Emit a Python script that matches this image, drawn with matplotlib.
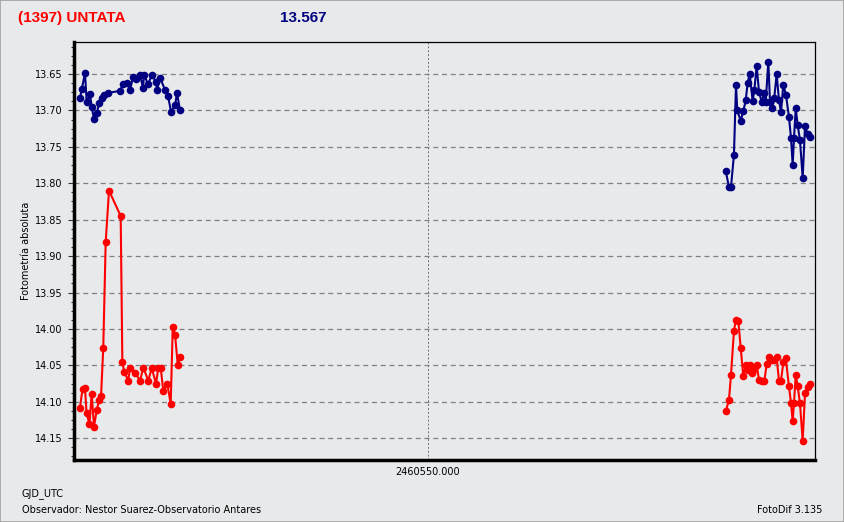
import numpy as np
import matplotlib
matplotlib.use('Agg')
from matplotlib import pyplot as plt
from matplotlib.ticker import MultipleLocator, FixedLocator, FuncFormatter
from matplotlib.patches import Rectangle

# GJD_UTC - 2460549 (days)
t_blue_a = [0.6243, 0.6261, 0.6297, 0.6315, 0.6351, 0.6369, 0.6394, 0.6423, 0.6451, 0.6477,
            0.6502, 0.6545, 0.6675, 0.6707, 0.6750, 0.6783, 0.6815, 0.6848, 0.6891, 0.6923,
            0.6934, 0.6977, 0.7020, 0.7064, 0.7074, 0.7107, 0.7161, 0.7193, 0.7226, 0.7269,
            0.7290, 0.7323]
m_blue_a = [13.683, 13.671, 13.649, 13.689, 13.678, 13.695, 13.712, 13.704, 13.690, 13.683,
            13.679, 13.676, 13.673, 13.664, 13.662, 13.672, 13.654, 13.657, 13.651, 13.669,
            13.651, 13.664, 13.651, 13.661, 13.672, 13.655, 13.672, 13.680, 13.702, 13.693,
            13.676, 13.700]

t_red_a = [0.6243, 0.6270, 0.6297, 0.6313, 0.6345, 0.6369, 0.6394, 0.6423, 0.6448, 0.6470,
           0.6494, 0.6520, 0.6556, 0.6682, 0.6700, 0.6721, 0.6764, 0.6783, 0.6837, 0.6891,
           0.6926, 0.6980, 0.7017, 0.7064, 0.7088, 0.7114, 0.7142, 0.7185, 0.7222, 0.7244,
           0.7269, 0.7298, 0.7323]
m_red_a = [14.108, 14.082, 14.081, 14.115, 14.131, 14.089, 14.134, 14.112, 14.098, 14.092,
           14.026, 13.881, 13.810, 13.845, 14.046, 14.059, 14.071, 14.053, 14.060, 14.071,
           14.053, 14.071, 14.054, 14.075, 14.053, 14.053, 14.085, 14.075, 14.103, 13.998,
           14.008, 14.049, 14.039]

t_blue_b = [1.3214, 1.3249, 1.3271, 1.3303, 1.3325, 1.3339, 1.3376, 1.3404, 1.3430, 1.3451,
            1.3473, 1.3505, 1.3523, 1.3548, 1.3573, 1.3602, 1.3631, 1.3646, 1.3674, 1.3692,
            1.3717, 1.3738, 1.3764, 1.3789, 1.3811, 1.3836, 1.3865, 1.3897, 1.3919, 1.3937,
            1.3951, 1.3970, 1.3991, 1.4016, 1.4045, 1.4070, 1.4099, 1.4124]
m_blue_b = [13.783, 13.805, 13.805, 13.761, 13.665, 13.700, 13.714, 13.701, 13.686, 13.662,
            13.650, 13.687, 13.672, 13.639, 13.674, 13.688, 13.676, 13.688, 13.633, 13.688,
            13.697, 13.683, 13.650, 13.686, 13.702, 13.665, 13.679, 13.709, 13.738, 13.775,
            13.738, 13.697, 13.720, 13.741, 13.793, 13.722, 13.732, 13.736]

t_red_b = [1.3214, 1.3249, 1.3271, 1.3303, 1.3322, 1.3350, 1.3376, 1.3404, 1.3430, 1.3458,
           1.3476, 1.3501, 1.3523, 1.3548, 1.3573, 1.3602, 1.3631, 1.3656, 1.3681, 1.3710,
           1.3738, 1.3764, 1.3789, 1.3811, 1.3836, 1.3862, 1.3897, 1.3919, 1.3937, 1.3951,
           1.3970, 1.3991, 1.4016, 1.4045, 1.4070, 1.4099, 1.4124]
m_red_b = [14.113, 14.098, 14.063, 14.003, 13.988, 13.989, 14.026, 14.065, 14.050, 14.057,
           14.049, 14.061, 14.055, 14.049, 14.070, 14.072, 14.072, 14.048, 14.038, 14.043,
           14.043, 14.039, 14.071, 14.071, 14.046, 14.040, 14.079, 14.102, 14.127, 14.102,
           14.063, 14.079, 14.102, 14.154, 14.088, 14.080, 14.075]

jd0 = 2460549.0
x_ticks = [2460550.0]
y_ticks = [13.65, 13.70, 13.75, 13.80, 13.85, 13.90, 13.95, 14.00, 14.05, 14.10, 14.15]

bg = '#E8E9EB'
fig = plt.figure(figsize=(8.44, 5.22), dpi=100, facecolor=bg)
fig.patches.append(Rectangle((0, 0), 1, 1, transform=fig.transFigure, fill=False,
                             edgecolor='#A0A0A0', lw=1.2))
ax = fig.add_axes([74 / 844, 1 - 460 / 522, 741 / 844, 418 / 522])
ax.set_facecolor(bg)

for t, m in [(t_blue_a, m_blue_a), (t_blue_b, m_blue_b)]:
    ax.plot(np.array(t) + jd0, m, color='#000080', lw=1.5, marker='o', ms=5.5,
            markeredgewidth=0, zorder=3)
for t, m in [(t_red_a, m_red_a), (t_red_b, m_red_b)]:
    ax.plot(np.array(t) + jd0, m, color='#FF0000', lw=1.5, marker='o', ms=5.5,
            markeredgewidth=0, zorder=3)

ax.set_xlim(jd0 + 0.6178, jd0 + 1.4178)
ax.set_ylim(14.180, 13.606)

ax.xaxis.set_major_locator(FixedLocator(x_ticks))
ax.xaxis.set_major_formatter(FuncFormatter(lambda v, p: '%.3f' % v))
ax.yaxis.set_major_locator(FixedLocator(y_ticks))
ax.yaxis.set_minor_locator(MultipleLocator(0.0125))
ax.yaxis.set_major_formatter(FuncFormatter(lambda v, p: '%.2f' % v))

ax.tick_params(axis='y', which='major', length=4, width=0.8, labelsize=7, pad=4, colors='#333333')
ax.tick_params(axis='y', which='minor', length=2, width=0.8, colors='#333333')
ax.tick_params(axis='x', which='major', length=0, labelsize=7, pad=5)
for lab in ax.get_yticklabels() + ax.get_xticklabels():
    lab.set_color('black')

ax.grid(axis='y', which='major', color='#808080', ls=(0, (4, 3)), lw=0.9)
ax.grid(axis='x', which='major', color='#707070', ls=(0, (2, 2)), lw=0.7)

ax.spines['left'].set_linewidth(2.5)
ax.spines['bottom'].set_linewidth(2.5)
ax.spines['top'].set_linewidth(0.9)
ax.spines['right'].set_linewidth(0.9)

ax.set_ylabel('Fotometría absoluta', fontsize=7, labelpad=3)

fig.text(18 / 844, 1 - 18 / 522, '(1397) UNTATA', color='#FF0000', fontsize=11,
         fontweight='bold', family='Liberation Sans', va='center', ha='left')
fig.text(280 / 844, 1 - 18 / 522, '13.567', color='#000080', fontsize=11,
         fontweight='bold', family='Liberation Sans', va='center', ha='left')
fig.text(22 / 844, 1 - 494 / 522, 'GJD_UTC', fontsize=7, va='center', ha='left')
fig.text(22 / 844, 1 - 510 / 522, 'Observador: Nestor Suarez-Observatorio Antares',
         fontsize=7, va='center', ha='left')
fig.text(822 / 844, 1 - 510 / 522, 'FotoDif 3.135', fontsize=7, va='center', ha='right')

fig.savefig('out.png', dpi=100, facecolor=bg)
